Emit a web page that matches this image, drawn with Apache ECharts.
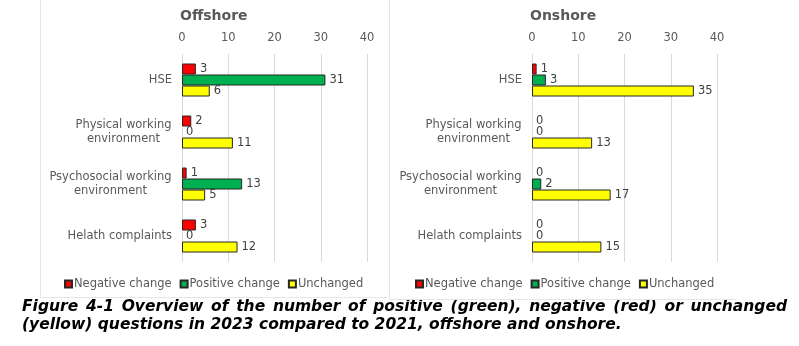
<!DOCTYPE html>
<html><head><meta charset="utf-8">
<script src="https://cdn.jsdelivr.net/npm/echarts@6/dist/echarts.min.js"></script>
<style>html,body{margin:0;padding:0;background:#fff}#c{width:799px;height:346px}</style>
</head><body><div id="c"></div>
<script>
const categories = ['HSE', 'Physical working\nenvironment', 'Psychosocial working\nenvironment', 'Helath complaints'];
const seriesNames = ['Negative change', 'Positive change', 'Unchanged'];
const offshoreNegative = [3, 2, 1, 3];
const offshorePositive = [31, 0, 13, 0];
const offshoreUnchanged = [6, 11, 5, 12];
const onshoreNegative = [1, 0, 0, 0];
const onshorePositive = [3, 0, 2, 0];
const onshoreUnchanged = [35, 13, 17, 15];
const panelTitles = ['Offshore', 'Onshore'];
const tickValues = [0, 10, 20, 30, 40];
const captionLines = ['Figure 4-1 Overview of the number of positive (green), negative (red) or unchanged',
  '(yellow) questions in 2023 compared to 2021, offshore and onshore.'];

const colors = ['#FF0000', '#00B050', '#FFFF00'];
const FONT = 'DejaVu Sans, Verdana, sans-serif';
const LFS = 11.5;
const labelFont = LFS + 'px DejaVu Sans';
const cv = document.createElement('canvas').getContext('2d');
function tw(t, f) { cv.font = f; return cv.measureText(t).width; }

const rich = {};
categories.forEach((c, ci) => {
  const lines = c.split('\n');
  rich['c' + ci] = { align: 'center', width: Math.ceil(Math.max(...lines.map(l => tw(l, labelFont)))),
    fontSize: LFS, fontFamily: FONT, color: '#595959', lineHeight: 14 };
});
function catFormatter(v, idx) {
  const lines = v.split('\n');
  if (lines.length === 1) return v;
  return lines.map(l => '{c' + idx + '|' + l + '}').join('\n');
}

const gridDefs = [{ left: 182, top: 54, width: 185, height: 208 }, { left: 532, top: 54, width: 185, height: 208 }];
const data = [[offshoreNegative, offshorePositive, offshoreUnchanged], [onshoreNegative, onshorePositive, onshoreUnchanged]];

const series = [];
data.forEach((arrs, gi) => {
  arrs.forEach((arr, si) => {
    series.push({
      name: seriesNames[si], type: 'bar', xAxisIndex: gi, yAxisIndex: gi,
      data: arr.map(v => v === 0 ? { value: v, itemStyle: { borderWidth: 0 } } : v),
      barWidth: 11, barGap: '0%', barCategoryGap: '36%',
      itemStyle: { color: colors[si], borderColor: '#262626', borderWidth: 1 },
      label: { show: true, position: 'right', distance: 4, color: '#404040', fontSize: LFS, fontFamily: FONT },
      animation: false
    });
  });
});

const graphic = [];
const capFont = 'bold italic 15.5px DejaVu Sans';
(function () {
  const words = captionLines[0].split(' ');
  const ws = words.map(w => tw(w, capFont));
  const total = 765;
  const gap = (total - ws.reduce((a, b) => a + b, 0)) / (words.length - 1);
  let x = 22;
  words.forEach((w, i) => {
    graphic.push({ type: 'text', left: x, top: 299, style: { text: w, font: capFont, fill: '#000' } });
    x += ws[i] + gap;
  });
  graphic.push({ type: 'text', left: 22, top: 317, style: { text: captionLines[1], font: capFont, fill: '#000' } });
})();
graphic.push({ type: 'line', shape: { x1: 40.5, y1: 0, x2: 40.5, y2: 297.5 }, style: { stroke: '#e6e6e6', lineWidth: 1 } });
graphic.push({ type: 'line', shape: { x1: 40, y1: 297.5, x2: 387, y2: 297.5 }, style: { stroke: '#e6e6e6', lineWidth: 1 } });
graphic.push({ type: 'line', shape: { x1: 389.5, y1: 0, x2: 389.5, y2: 299.5 }, style: { stroke: '#e6e6e6', lineWidth: 1 } });
graphic.push({ type: 'line', shape: { x1: 389, y1: 299.5, x2: 736, y2: 299.5 }, style: { stroke: '#e6e6e6', lineWidth: 1 } });

const option = {
  backgroundColor: '#fff',
  animation: false,
  title: panelTitles.map((t, i) => ({ text: t, left: gridDefs[i].left - 2, top: 9, padding: 0,
    textStyle: { fontFamily: FONT, fontWeight: 'bold', fontSize: 14, color: '#595959' } })),
  legend: [0, 1].map(i => ({
    data: seriesNames, left: i === 0 ? 64 : 415, top: 278, itemWidth: 7, itemHeight: 7, itemGap: 8,
    icon: 'rect', padding: 0,
    textStyle: { fontFamily: FONT, fontSize: LFS, color: '#595959', padding: [0, 0, 0, -3] },
    selectedMode: false
  })),
  grid: gridDefs,
  xAxis: gridDefs.map((g, i) => ({
    type: 'value', gridIndex: i, position: 'top', min: tickValues[0], max: tickValues[tickValues.length - 1], interval: 10,
    axisLine: { show: false }, axisTick: { show: false },
    axisLabel: { fontFamily: FONT, fontSize: LFS, color: '#595959', margin: 10 },
    splitLine: { lineStyle: { color: '#d9d9d9' } }
  })),
  yAxis: gridDefs.map((g, i) => ({
    type: 'category', gridIndex: i, data: categories, inverse: true,
    axisLine: { show: false }, axisTick: { show: false },
    axisLabel: { fontFamily: FONT, fontSize: LFS, color: '#595959', margin: 10, lineHeight: 14, formatter: catFormatter, rich: rich }
  })),
  series: series,
  graphic: graphic
};
const chart = echarts.init(document.getElementById('c'), null, { renderer: 'canvas' });
chart.setOption(option);
</script></body></html>
